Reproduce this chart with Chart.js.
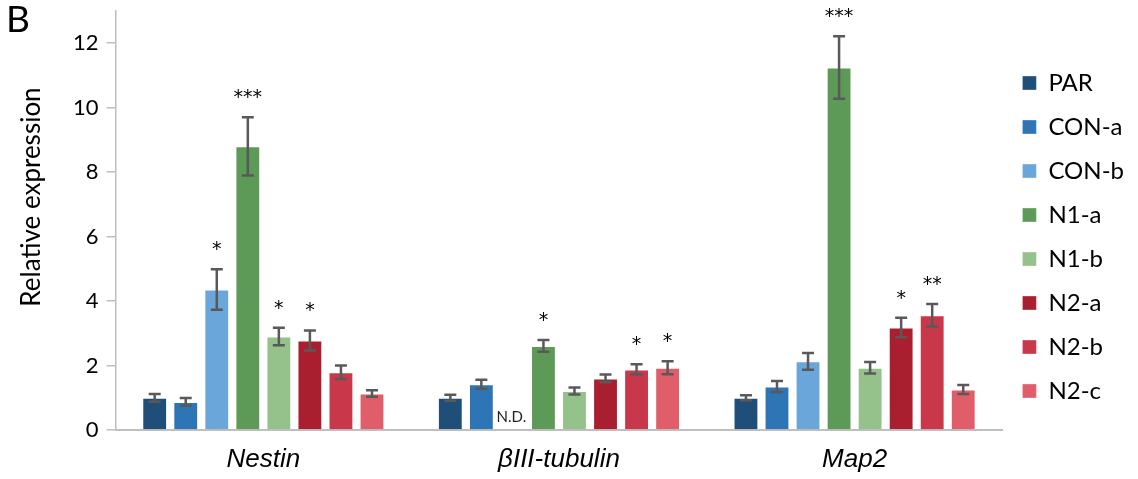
<!DOCTYPE html>
<html>
<head>
<meta charset="utf-8">
<script src="https://cdn.jsdelivr.net/npm/chart.js@4"></script>
<style>
  html, body { margin: 0; padding: 0; background: #fff; }
  #wrap { width: 1138px; height: 479px; }
</style>
</head>
<body>
<div id="wrap"><canvas id="barChart"></canvas></div>
<script>
// categories and series
const categories = ["Nestin", "βIII-tubulin", "Map2"];
const seriesNames = ["PAR", "CON-a", "CON-b", "N1-a", "N1-b", "N2-a", "N2-b", "N2-c"];
const seriesColors = ["#1f4e79", "#2e75b6", "#6aa6d9", "#5e9a57", "#95c18b", "#a91f2f", "#c8384a", "#e05e6a"];

// mean relative expression
const par = [1.0, 1.0, 1.0];
const conA = [0.87, 1.42, 1.35];
const conB = [4.36, null, 2.13];
const n1a = [8.8, 2.61, 11.25];
const n1b = [2.9, 1.21, 1.93];
const n2a = [2.78, 1.6, 3.18];
const n2b = [1.79, 1.88, 3.56];
const n2c = [1.13, 1.93, 1.26];

// error (+/-)
const parErr = [0.12, 0.09, 0.08];
const conAErr = [0.12, 0.14, 0.17];
const conBErr = [0.63, null, 0.26];
const n1aErr = [0.9, 0.18, 0.97];
const n1bErr = [0.27, 0.11, 0.18];
const n2aErr = [0.31, 0.12, 0.3];
const n2bErr = [0.21, 0.16, 0.35];
const n2cErr = [0.1, 0.2, 0.14];

// significance marks
const parSig = ["", "", ""];
const conASig = ["", "", ""];
const conBSig = ["*", "", ""];
const n1aSig = ["***", "*", "***"];
const n1bSig = ["*", "", ""];
const n2aSig = ["*", "", "*"];
const n2bSig = ["", "*", "**"];
const n2cSig = ["", "*", ""];

const yTicks = [0, 2, 4, 6, 8, 10, 12];

const values = [par, conA, conB, n1a, n1b, n2a, n2b, n2c];
const errors = [parErr, conAErr, conBErr, n1aErr, n1bErr, n2aErr, n2bErr, n2cErr];
const sigs = [parSig, conASig, conBSig, n1aSig, n1bSig, n2aSig, n2bSig, n2cSig];

const datasets = seriesNames.map((name, i) => ({
  label: name,
  data: values[i],
  errors: errors[i],
  sig: sigs[i],
  backgroundColor: seriesColors[i],
  borderColor: "rgba(255,255,255,0.35)",
  borderWidth: 1,
  categoryPercentage: 0.84,
  barPercentage: 0.8,
}));

// error bars, stars and N.D.
const extras = {
  id: "extras",
  afterLayout(chart) {
    // legend sits a little above the middle in the original
    chart.legend.bottom -= 13;
  },
  afterDatasetsDraw(chart) {
    const ctx = chart.ctx;
    const y = chart.scales.y;
    const zero = y.getPixelForValue(0);
    ctx.save();
    chart.data.datasets.forEach((ds, di) => {
      const meta = chart.getDatasetMeta(di);
      meta.data.forEach((bar, i) => {
        const v = ds.data[i];
        const x = bar.x;
        if (v == null) {
          ctx.fillStyle = "#222";
          ctx.font = "15px Lato";
          ctx.textAlign = "center";
          ctx.textBaseline = "middle";
          ctx.fillText("N.D.", x - 1, zero - 13);
          return;
        }
        const e = ds.errors[i];
        const top = y.getPixelForValue(v + e);
        const bot = y.getPixelForValue(v - e);
        ctx.strokeStyle = "#595959";
        ctx.lineWidth = 2.5;
        ctx.beginPath();
        ctx.moveTo(x, top); ctx.lineTo(x, bot);
        ctx.moveTo(x - 6, top); ctx.lineTo(x + 6, top);
        ctx.moveTo(x - 6, bot); ctx.lineTo(x + 6, bot);
        ctx.stroke();
        if (ds.sig[i]) {
          ctx.fillStyle = "#000";
          ctx.font = "19px 'DejaVu Sans'";
          ctx.textAlign = "center";
          ctx.textBaseline = "middle";
          ctx.fillText(ds.sig[i], x, top - 19);
        }
      });
    });
    // panel letter and y title
    ctx.fillStyle = "#000";
    ctx.font = "37px Lato";
    ctx.textAlign = "left";
    ctx.textBaseline = "top";
    ctx.fillText("B", 6, 2);
    ctx.translate(32, 197);
    ctx.rotate(-Math.PI / 2);
    ctx.font = "26px Lato";
    ctx.textAlign = "center";
    ctx.textBaseline = "middle";
    ctx.fillText("Relative expression", 0, 0);
    ctx.restore();
  },
};

new Chart(document.getElementById("barChart"), {
  type: "bar",
  data: { labels: categories, datasets: datasets },
  options: {
    responsive: true,
    maintainAspectRatio: false,
    animation: false,
    layout: { padding: { top: 11, left: 65, right: 4, bottom: 3 } },
    plugins: {
      legend: {
        position: "right",
        labels: {
          font: { family: "Lato", size: 24 },
          color: "#000",
          boxWidth: 14,
          boxHeight: 14,
          padding: 20,
        },
      },
      tooltip: { enabled: false },
    },
    scales: {
      x: {
        grid: { display: false, drawTicks: false },
        border: { color: "#bfbfbf", width: 2 },
        ticks: {
          font: { family: "Liberation Sans", size: 26, style: "italic" },
          color: "#000",
          padding: 14,
        },
        afterFit(scale) {
          scale.height = 46;
        },
      },
      y: {
        min: 0,
        max: 13,
        afterBuildTicks(axis) {
          axis.ticks = yTicks.map((v) => ({ value: v }));
        },
        afterFit(scale) {
          scale.paddingTop = 0;
          scale.paddingBottom = 0;
        },
        grid: { drawOnChartArea: false, color: "#bfbfbf", tickLength: 9, lineWidth: 1.5 },
        border: { color: "#bfbfbf", width: 1.5 },
        ticks: {
          font: { family: "Lato", size: 22 },
          color: "#000",
          padding: 8,
        },
      },
    },
  },
  plugins: [extras],
});
</script>
</body>
</html>
